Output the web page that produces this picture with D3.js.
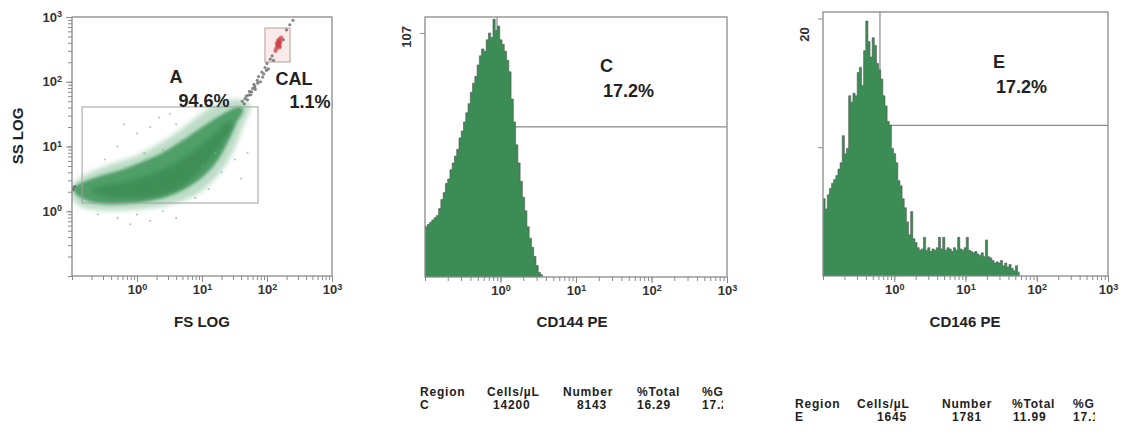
<!DOCTYPE html>
<html>
<head>
<meta charset="utf-8">
<script src="https://cdn.jsdelivr.net/npm/d3@7"></script>
<style>
  body { margin: 0; background: #fff; }
  svg { font-family: "Liberation Sans", Arial, sans-serif; font-weight: bold; }
  .axis path, .axis line { stroke: #8a8a8a; }
  .axis text { fill: #333; font-size: 13px; font-weight: bold; font-family: "Liberation Sans", Arial, sans-serif; }
</style>
</head>
<body>
<svg id="chart" width="1136" height="441"></svg>
<script>
// ---- data ----
// scatter FS LOG vs SS LOG, outline of the dense cloud and its halo (FS, SS)
var cloudHalo = [[0.1,2.45],[0.133,3.3],[0.23,4.3],[0.46,5.6],[0.93,7.1],[1.9,10.2],[3.9,16],[7.8,27],[14,41],[25,52],[41,52],[55,42],[44,22],[33,10.5],[23,5.2],[14,2.8],[8.1,1.8],[4,1.34],[1.7,1.12],[0.65,1.04],[0.27,1.04],[0.14,1.16],[0.1,1.6]];
var cloudCore = [[0.107,2.3],[0.16,2.9],[0.27,3.5],[0.55,4.3],[1.1,5.6],[2.3,7.7],[4.6,11.7],[9.3,19],[16,27],[25,35],[38,41],[43,37],[33,22],[25,11.7],[17.6,6.2],[11,3.6],[6.5,2.45],[3.5,1.8],[1.6,1.45],[0.65,1.3],[0.27,1.3],[0.16,1.5],[0.115,1.85]];
var cloudDense = [[0.2,2.2],[0.5,2.7],[1.2,3.4],[3,4.8],[7,8],[14,14],[25,24],[30,22],[20,11],[12,5.5],[6,2.8],[2.5,1.8],[0.8,1.6],[0.3,1.7]];
var strayPoints = [[0.5,10],[1.0,16],[1.6,20],[2.2,28],[3.2,32],[4.0,22],[1.3,7.9],[0.32,6.3],[10,5.0],[16,7.9],[20,4.0],[32,6.3],[12.6,2.2],[7.9,1.6],[25,12.6],[5.0,12.6],[0.63,22],[2.5,8.9],[40,3.2],[50,8],[0.25,0.89],[0.5,0.79],[1.0,0.89],[1.6,0.71],[2.5,1.0],[0.79,0.63],[4.0,0.79]];
var streamPoints = [[41.7,50],[44.7,45.7],[47.9,60],[50,52.5],[53.7,71],[56.2,63],[60.3,79],[63.1,91],[66.1,76],[70.8,105],[74.1,120],[79.4,100],[83.2,141],[89.1,132],[93.3,166],[100,191],[105,158],[112,224],[120,251],[126,214],[158,355],[178,447],[200,631],[224,759],[251,891],[46,55],[52,62],[58,70],[65,84],[72,95],[86,118],[98,150],[0.1,2.3],[0.105,2.15],[0.11,2.4]];
var calPoints = [[140,330],[150,400],[155,450],[145,360],[160,420],[135,300],[150,370],[165,480],[142,390],[155,340],[148,430],[158,390]];
var gateA = { fs: [0.143, 72.8], ss: [1.34, 40.8] };
var gateCal = { fs: [93, 226], ss: [202, 676] };

// histograms, counts per bin, bins 0.03 decades wide starting at 10^-1
var binStartLog = -1;
var binWidthLog = 0.03;
var cd144Counts = [22,23,24,25,26,27,30,34,37,41,43,47,50,53,56,61,64,68,72,76,81,85,88,93,97,100,99,104,107,105,113,108,110,104,102,99,95,90,78,68,58,50,42,35,29,22,17,13,9,5,2,1];
var cd146Counts = [6.0,5.2,6.3,6.8,7.2,7.5,7.8,8.3,8.8,10.9,9.5,9.9,14.0,13.5,14.2,14.0,15.8,16.2,14.8,17.5,19.8,18.2,17.0,18.5,17.9,16.5,16.0,15.3,14.0,13.2,12.0,11.7,9.9,9.5,8.8,7.4,7.0,6.0,5.3,4.2,3.2,5.0,2.9,2.6,2.2,2.0,2.1,3.0,2.0,2.2,1.9,2.1,2.0,2.2,3.0,2.1,3.0,2.0,2.2,2.1,1.9,2.2,2.0,3.0,2.1,2.0,2.2,3.0,2.0,1.9,1.8,1.9,1.7,1.6,1.8,1.5,2.8,1.5,1.4,1.2,1.0,1.1,1.0,1.2,0.8,1.0,0.7,0.9,0.6,0.4,0.8,0.3];

var tableHeaders = ["Region", "Cells/\u00b5L", "Number", "%Total", "%G"];
var rowC = ["C", "14200", "8143", "16.29", "17.2"];
var rowE = ["E", "1645", "1781", "11.99", "17.1"];

var decadeTicks = [1, 10, 100, 1000];
var exponents = { 1: "0", 10: "1", 100: "2", 1000: "3" };

var svg = d3.select('#chart');

var defs = svg.append('defs');
defs.append('filter').attr('id', 'blurHalo')
  .append('feGaussianBlur').attr('stdDeviation', 2.5);
defs.append('filter').attr('id', 'blurCore')
  .append('feGaussianBlur').attr('stdDeviation', 1.5);
defs.append('filter').attr('id', 'blurDot')
  .append('feGaussianBlur').attr('stdDeviation', 0.6);

// label a log axis with 10 + superscript
function supLabels(sel){
  sel.selectAll('text').each(function(d){
    var t = d3.select(this);
    t.text(null);
    t.append('tspan').text('10');
    t.append('tspan').attr('dy', '-0.5em').attr('font-size', '9px').text(exponents[d]);
  });
}

function logAxes(g, x, y, frame, showYLog){
  var minor = x.ticks();
  // bottom minor + major ticks
  g.append('g').attr('class', 'axis')
    .attr('transform', 'translate(0,' + frame.bottom + ')')
    .call(d3.axisBottom(x).tickValues(minor).tickSize(4).tickFormat(''))
    .select('.domain').remove();
  g.append('g').attr('class', 'axis')
    .attr('transform', 'translate(0,' + frame.bottom + ')')
    .call(d3.axisBottom(x).tickValues(decadeTicks).tickSize(6).tickPadding(3))
    .call(supLabels)
    .select('.domain').remove();
  if (showYLog){
    g.append('g').attr('class', 'axis')
      .attr('transform', 'translate(' + frame.left + ',0)')
      .call(d3.axisLeft(y).tickValues(y.ticks()).tickSize(4).tickFormat(''))
      .select('.domain').remove();
    g.append('g').attr('class', 'axis')
      .attr('transform', 'translate(' + frame.left + ',0)')
      .call(d3.axisLeft(y).tickValues(decadeTicks).tickSize(6).tickPadding(4))
      .call(supLabels)
      .select('.domain').remove();
  }
  // frame
  g.append('rect')
    .attr('x', frame.left).attr('y', frame.top)
    .attr('width', frame.right - frame.left).attr('height', frame.bottom - frame.top)
    .attr('fill', 'none').attr('stroke', '#8a8a8a').attr('stroke-width', 1.3);
}

/****** panel 1: FS LOG / SS LOG scatter ******/
function drawScatter(){
  var frame = { left: 72, right: 332, top: 17, bottom: 276 };
  var x = d3.scaleLog().domain([0.1, 1000]).range([frame.left, frame.right]);
  var y = d3.scaleLog().domain([0.1, 1000]).range([frame.bottom, frame.top]);
  var g = svg.append('g');

  defs.append('clipPath').attr('id', 'clipScatter')
    .append('rect').attr('x', frame.left).attr('y', frame.top)
    .attr('width', frame.right - frame.left).attr('height', frame.bottom - frame.top);
  var plot = g.append('g').attr('clip-path', 'url(#clipScatter)');

  var line = d3.line().x(d => x(d[0])).y(d => y(d[1])).curve(d3.curveCatmullRomClosed);

  // CAL gate tint
  plot.append('rect')
    .attr('x', x(gateCal.fs[0])).attr('y', y(gateCal.ss[1]))
    .attr('width', x(gateCal.fs[1]) - x(gateCal.fs[0]))
    .attr('height', y(gateCal.ss[0]) - y(gateCal.ss[1]))
    .attr('fill', '#fbeaea').attr('stroke', '#b99c9c').attr('stroke-width', 1);

  plot.append('path').datum(cloudHalo)
    .attr('d', line).attr('fill', '#6cb383').attr('opacity', 0.45)
    .attr('filter', 'url(#blurHalo)');
  plot.append('path').datum(cloudCore)
    .attr('d', line).attr('fill', '#45995e').attr('opacity', 0.9)
    .attr('filter', 'url(#blurCore)');
  plot.append('path').datum(cloudDense)
    .attr('d', line).attr('fill', '#37874f').attr('opacity', 0.7)
    .attr('filter', 'url(#blurHalo)');

  plot.selectAll('.stray').data(strayPoints).enter().append('circle')
    .attr('cx', d => x(d[0])).attr('cy', d => y(d[1])).attr('r', 1.1)
    .attr('fill', '#7fa89a').attr('opacity', 0.6);
  plot.selectAll('.stream').data(streamPoints).enter().append('circle')
    .attr('cx', d => x(d[0])).attr('cy', d => y(d[1])).attr('r', 1.6)
    .attr('fill', '#555').attr('opacity', 0.7).attr('filter', 'url(#blurDot)');
  plot.selectAll('.cal').data(calPoints).enter().append('circle')
    .attr('cx', d => x(d[0])).attr('cy', d => y(d[1])).attr('r', 2.2)
    .attr('fill', '#cf3f45').attr('opacity', 0.7).attr('filter', 'url(#blurDot)');

  // gate A
  plot.append('rect')
    .attr('x', x(gateA.fs[0])).attr('y', y(gateA.ss[1]))
    .attr('width', x(gateA.fs[1]) - x(gateA.fs[0]))
    .attr('height', y(gateA.ss[0]) - y(gateA.ss[1]))
    .attr('fill', 'none').attr('stroke', '#a0a0a0').attr('stroke-width', 1);

  logAxes(g, x, y, frame, true);

  g.append('text').attr('x', 176).attr('y', 83).attr('text-anchor', 'middle')
    .attr('font-size', 18).attr('fill', '#222').text('A');
  g.append('text').attr('x', 204).attr('y', 107).attr('text-anchor', 'middle')
    .attr('font-size', 18).attr('fill', '#222').text('94.6%');
  g.append('text').attr('x', 294).attr('y', 85).attr('text-anchor', 'middle')
    .attr('font-size', 18).attr('fill', '#222').text('CAL');
  g.append('text').attr('x', 310).attr('y', 108).attr('text-anchor', 'middle')
    .attr('font-size', 18).attr('fill', '#222').text('1.1%');

  g.append('text').attr('x', 202).attr('y', 327).attr('text-anchor', 'middle')
    .attr('font-size', 15).attr('fill', '#222').text('FS LOG');
  g.append('text').attr('transform', 'translate(23,136) rotate(-90)')
    .attr('text-anchor', 'middle').attr('font-size', 15).attr('fill', '#222').text('SS LOG');
}

/****** histogram panels ******/
function drawHist(cfg){
  var frame = cfg.frame;
  var x = d3.scaleLog().domain([0.1, 1000]).range([frame.left, frame.right]);
  var y = d3.scaleLinear().domain([0, cfg.yMax]).range([frame.bottom, frame.top]);
  var g = svg.append('g');

  // gate (drawn under the histogram)
  g.append('path')
    .attr('d', 'M' + x(cfg.gateX) + ',' + y(cfg.yMax) + 'V' + y(cfg.gateY) + 'H' + frame.right)
    .attr('fill', 'none').attr('stroke', '#8a8a8a').attr('stroke-width', 1.2);

  var steps = [];
  cfg.counts.forEach(function(c, i){
    steps.push({ x: Math.pow(10, binStartLog + i * binWidthLog), c: c });
    steps.push({ x: Math.pow(10, binStartLog + (i + 1) * binWidthLog), c: c });
  });

  var area = d3.area().x(d => x(d.x)).y0(y(0)).y1(d => y(d.c));
  var top = d3.line().x(d => x(d.x)).y(d => y(d.c));
  g.append('path').datum(steps).attr('d', area).attr('fill', '#3b8d55');
  g.append('path').datum(steps).attr('d', top)
    .attr('fill', 'none').attr('stroke', '#4d4d4d').attr('stroke-width', 1).attr('opacity', 0.55);

  logAxes(g, x, y, frame, false);

  // y ticks
  var yAxis = g.append('g').attr('class', 'axis')
    .attr('transform', 'translate(' + frame.left + ',0)')
    .call(d3.axisLeft(y).tickValues(cfg.yTicks).tickSize(5).tickFormat(''));
  yAxis.select('.domain').remove();
  g.append('text')
    .attr('transform', 'translate(' + (frame.left - 19) + ',' + (y(cfg.yLabel) + cfg.yLabelShift) + ') rotate(-90)')
    .attr('text-anchor', 'middle').attr('dy', '0.35em')
    .attr('font-size', 13).attr('fill', '#333').text(cfg.yLabel);

  g.append('text').attr('x', cfg.regionPos[0]).attr('y', cfg.regionPos[1])
    .attr('font-size', 18).attr('fill', '#222').text(cfg.region);
  g.append('text').attr('x', cfg.regionPos[0] + 3).attr('y', cfg.regionPos[1] + 25)
    .attr('font-size', 18).attr('fill', '#222').text('17.2%');

  g.append('text').attr('x', cfg.titleX).attr('y', 327).attr('text-anchor', 'middle')
    .attr('font-size', 15).attr('fill', '#222').text(cfg.title);
}

function drawTable(id, row, clipRight, headX, rowX, headY){
  defs.append('clipPath').attr('id', id)
    .append('rect').attr('x', 0).attr('y', 0).attr('width', clipRight).attr('height', 441);
  var g = svg.append('g').attr('clip-path', 'url(#' + id + ')')
    .attr('font-size', 12).attr('letter-spacing', 0.8).attr('fill', '#222');
  g.selectAll('.hd').data(tableHeaders).enter().append('text')
    .attr('x', (d, i) => headX[i]).attr('y', headY).text(d => d);
  g.selectAll('.rw').data(row).enter().append('text')
    .attr('x', (d, i) => rowX[i]).attr('y', headY + 13).text(d => d);
}

drawScatter();
drawHist({
  frame: { left: 425, right: 727, top: 17, bottom: 277 },
  counts: cd144Counts, yMax: 114, yTicks: [107], yLabel: 107, yLabelShift: 4,
  gateX: 0.9, gateY: 65.8,
  region: 'C', regionPos: [600, 72],
  title: 'CD144 PE', titleX: 572
});
drawHist({
  frame: { left: 823, right: 1108, top: 12, bottom: 276 },
  counts: cd146Counts, yMax: 20.5, yTicks: [10, 20], yLabel: 20, yLabelShift: 16,
  gateX: 0.63, gateY: 11.7,
  region: 'E', regionPos: [993, 68],
  title: 'CD146 PE', titleX: 965
});
drawTable('clipTabC', rowC, 723, [420, 487, 563, 637, 702], [420, 493, 577, 637, 702], 396);
drawTable('clipTabE', rowE, 1095, [795, 857, 942, 1012, 1073], [795, 877, 952, 1013, 1073], 408);
</script>
</body>
</html>
